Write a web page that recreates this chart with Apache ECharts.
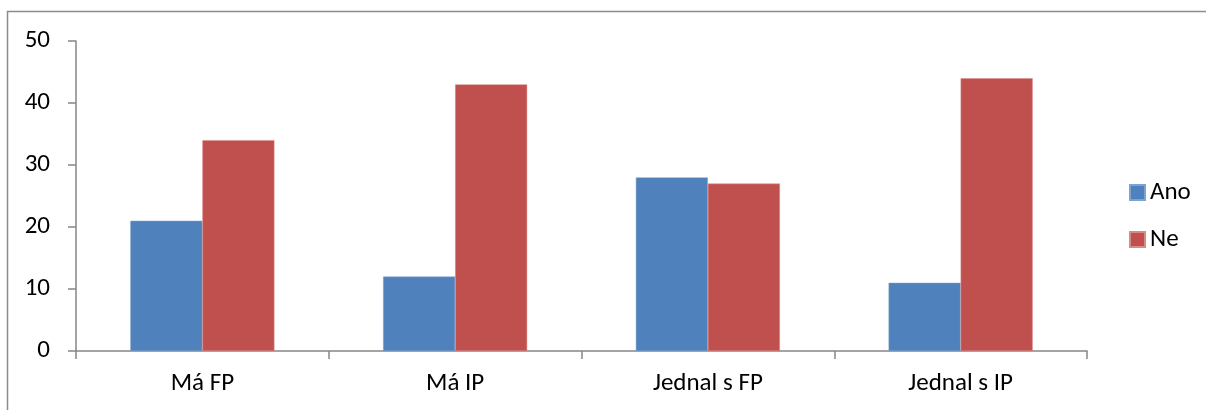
<!DOCTYPE html>
<html>
<head>
<meta charset="utf-8">
<script src="https://cdn.jsdelivr.net/npm/echarts@6/dist/echarts.min.js"></script>
<style>
  html, body { margin: 0; padding: 0; background: #fff; overflow: hidden; }
  #chart { width: 1206px; height: 410px; }
</style>
</head>
<body>
<div id="chart"></div>
<script>
var categories = ['Má FP', 'Má IP', 'Jednal s FP', 'Jednal s IP'];
var seriesNames = ['Ano', 'Ne'];
var anoValues = [21, 12, 28, 11];
var neValues = [34, 43, 27, 44];

var font = 'Carlito, Lato, "Open Sans", sans-serif';
var axisGray = '#868686';
var labelSize = 25;

var myChart = echarts.init(document.getElementById('chart'));
var option = {
    animation: false,
    textStyle: { fontFamily: font },
    // rámeček grafu (jen horní a levá hrana jsou vidět)
    graphic: [{
        type: 'polyline',
        shape: { points: [[7.5, 415], [7.5, 11.5], [1206, 11.5]] },
        style: { fill: 'none', stroke: '#8c8c8c', lineWidth: 1.5, lineCap: 'butt' },
        silent: true
    }],
    grid: { left: 76, right: 119, top: 41, bottom: 59 },
    legend: {
        orient: 'vertical',
        left: 1129,
        top: 180,
        padding: 0,
        itemWidth: 15,
        itemHeight: 15,
        itemGap: 22,
        icon: 'rect',
        data: seriesNames,
        textStyle: { fontSize: labelSize, color: '#000', fontFamily: font }
    },
    xAxis: {
        type: 'category',
        data: categories,
        axisLine: { lineStyle: { color: axisGray, width: 1.5 } },
        axisTick: { show: true, length: 8, alignWithLabel: false, lineStyle: { color: axisGray, width: 1.5 } },
        axisLabel: { fontSize: labelSize, color: '#000', margin: 20, fontFamily: font },
        splitLine: { show: false }
    },
    yAxis: {
        type: 'value',
        min: 0,
        max: 50,
        interval: 10,
        axisLine: { show: true, lineStyle: { color: axisGray, width: 1.5 } },
        axisTick: { show: true, length: 8, lineStyle: { color: axisGray, width: 1.5 } },
        axisLabel: { fontSize: labelSize, color: '#000', margin: 26, fontFamily: font },
        splitLine: { show: false }
    },
    series: [
        {
            name: seriesNames[0],
            type: 'bar',
            data: anoValues,
            barGap: '0%',
            barCategoryGap: '43%',
            itemStyle: { color: '#4F81BD', borderColor: '#7fa3d0', borderWidth: 0.5 }
        },
        {
            name: seriesNames[1],
            type: 'bar',
            data: neValues,
            barGap: '0%',
            barCategoryGap: '43%',
            itemStyle: { color: '#C0504D', borderColor: '#d98a88', borderWidth: 0.5 }
        }
    ]
};
myChart.setOption(option);
</script>
</body>
</html>
